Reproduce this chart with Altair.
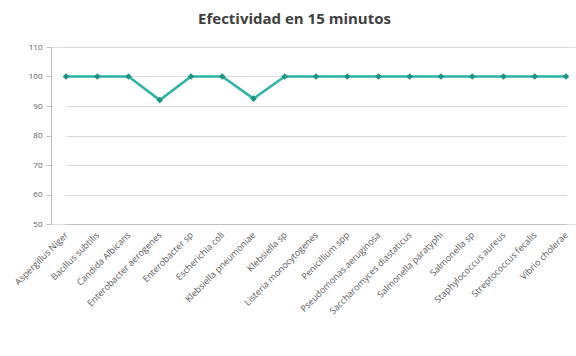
import altair as alt
import pandas as pd

organisms = [
    "Aspergillus Niger", "Bacillus subtilis", "Candida Albicans",
    "Enterobacter aerogenes", "Enterobacter sp", "Escherichia coli",
    "Klebsiella pneumoniae", "Klebsiella sp", "Listeria monocytogenes",
    "Penicillium spp", "Pseudomonas aeruginosa", "Saccharomyces diastaticus",
    "Salmonella paratyphi", "Salmonella sp", "Staphylococcus aureus",
    "Streptococcus fecalis", "Vibrio cholerae",
]
efectividad = [100, 100, 100, 92, 100, 100, 92.5, 100, 100, 100, 100, 100,
               100, 100, 100, 100, 100]
y_ticks = [50, 60, 70, 80, 90, 100, 110]

df = pd.DataFrame({"organismo": organisms, "valor": efectividad})

x_enc = alt.X("organismo:N", sort=organisms, title=None,
              scale=alt.Scale(type="point", range=[15, 515], padding=0),
              axis=alt.Axis(labelAngle=-45, labelAlign="right", labelBaseline="middle",
                            labelFontSize=9, labelColor="#595959", labelFont="Open Sans",
                            ticks=False, domainColor="#bfbfbf", grid=False, labelPadding=9))
y_enc = alt.Y("valor:Q", title=None,
              scale=alt.Scale(domain=[50, 110], nice=False, zero=False),
              axis=alt.Axis(values=y_ticks, labelFontSize=8, labelColor="#595959",
                            labelFont="Open Sans", tickColor="#bfbfbf", tickSize=5,
                            domainColor="#bfbfbf", gridColor="#d9d9d9", labelPadding=4))

base = alt.Chart(df).encode(x=x_enc, y=y_enc)
line = base.mark_line(color="#2BB3A5", strokeWidth=2.5)
pts = base.mark_point(shape="diamond", filled=True, size=45, color="#1E9484", opacity=1)

chart = (line + pts).properties(
    width=525, height=177,
    title=alt.TitleParams("Efectividad en 15 minutos", fontSize=15, font="Open Sans",
                          fontWeight="bold", color="#404040", anchor="middle",
                          dx=-19, offset=16),
    autosize=alt.AutoSizeParams(type="none"),
    padding={"left": 51, "top": 47, "right": 0, "bottom": 132},
).configure_view(stroke=None).configure(background="white")

chart.save("out.html", embed_options={"renderer": "svg", "actions": False})
